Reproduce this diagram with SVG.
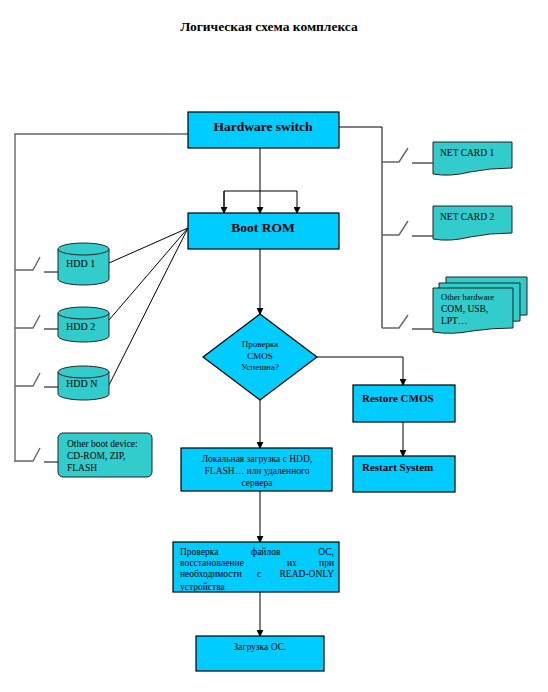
<svg xmlns="http://www.w3.org/2000/svg" width="548" height="692" viewBox="0 0 548 692">
<defs>
<style>
.box{fill:#00CCFF;stroke:#000;stroke-width:1.2}
.hw{fill:#33CCCC;stroke:#222;stroke-width:1}
.ln{fill:none;stroke:#000;stroke-width:1}
.gl{fill:none;stroke:#666;stroke-width:1.4}
.t{font-family:"Liberation Serif","Times New Roman",serif;fill:#000}
.b{font-weight:bold}
</style>
<marker id="ar" viewBox="0 0 8 8" refX="7" refY="4" markerWidth="7" markerHeight="7" markerUnits="userSpaceOnUse" orient="auto">
<path d="M0,0 L8,4 L0,8 Z" fill="#000"/>
</marker>
<clipPath id="cp"><rect x="173" y="542" width="166" height="49"/></clipPath>
</defs>
<rect width="548" height="692" fill="#fff"/>
<text class="t b" x="269" y="31" font-size="13.5" text-anchor="middle">Логическая схема комплекса</text>

<g id="connectors">
<polyline class="gl" points="188,134 15,134 15,462"/>
<path class="gl" d="M15,270 H33 L40,257 M15,328 H33 L40,315 M15,386 H33 L40,373 M15,461 H33 L40,448"/>
<path class="ln" d="M44,272 H58 M44,329 H58 M44,387 H58 M44,462 H58"/>
<polyline class="ln" points="339,127 382,127 382,328"/>
<path class="gl" d="M382,162 H399 L408,148 M382,235 H399 L408,221 M382,328 H399 L408,315"/>
<path class="ln" d="M412,163 H433 M412,236 H433 M412,329 H433"/>
<line class="ln" x1="260" y1="148" x2="260" y2="213" marker-end="url(#ar)"/>
<polyline class="ln" points="224,213 224,191 297,191 297,213" marker-end="url(#ar)"/>
<line class="ln" x1="224" y1="191" x2="224" y2="213" marker-end="url(#ar)"/>
<path class="ln" d="M188,228 L109,263 M188,228 L109,320 M188,228 L109,385" stroke="#333"/>
<line class="ln" x1="260" y1="249" x2="260" y2="314" marker-end="url(#ar)"/>
<polyline class="ln" points="317,357 403,357 403,385" marker-end="url(#ar)"/>
<line class="ln" x1="403" y1="422" x2="403" y2="456" marker-end="url(#ar)"/>
<line class="ln" x1="260" y1="400" x2="260" y2="448" marker-end="url(#ar)"/>
<line class="ln" x1="260" y1="491" x2="260" y2="542" marker-end="url(#ar)"/>
<line class="ln" x1="260" y1="592" x2="260" y2="636" marker-end="url(#ar)"/>
</g>

<g id="hardware-switch">
<rect class="box" x="188" y="112" width="151" height="36"/>
<text class="t b" x="263" y="131" font-size="13.5" text-anchor="middle">Hardware switch</text>
</g>
<g id="boot-rom">
<rect class="box" x="188" y="213" width="151" height="36"/>
<text class="t b" x="263" y="232" font-size="13.5" text-anchor="middle">Boot ROM</text>
</g>

<g id="hdd1">
<path class="hw" d="M58,249 V279 A25.5,6 0 0 0 109,279 V249"/>
<ellipse class="hw" cx="83.5" cy="249" rx="25.5" ry="6"/>
<text class="t" x="66" y="267" font-size="10">HDD 1</text>
</g>
<g id="hdd2">
<path class="hw" d="M58,313 V336 A25.5,6 0 0 0 109,336 V313"/>
<ellipse class="hw" cx="83.5" cy="313" rx="25.5" ry="6"/>
<text class="t" x="66" y="330" font-size="10">HDD 2</text>
</g>
<g id="hddn">
<path class="hw" d="M58,372 V394 A25.5,6 0 0 0 109,394 V372"/>
<ellipse class="hw" cx="83.5" cy="372" rx="25.5" ry="6"/>
<text class="t" x="66" y="387" font-size="10">HDD N</text>
</g>
<g id="other-boot">
<rect class="hw" x="58" y="433" width="94" height="44" rx="5"/>
<text class="t" x="67" y="447" font-size="9.5">Other boot device:</text>
<text class="t" x="67" y="459" font-size="9.5">CD-ROM, ZIP,</text>
<text class="t" x="67" y="471" font-size="9.5">FLASH</text>
</g>

<g id="net-card-1">
<path class="hw" d="M433,142 H512 V168 Q490,168 470,172 Q450,177 433,174 Z"/>
<text class="t" x="440" y="156" font-size="9.5">NET CARD 1</text>
</g>
<g id="net-card-2">
<path class="hw" d="M433,206 H512 V233 Q490,233 470,237 Q450,242 433,239 Z"/>
<text class="t" x="440" y="220" font-size="9.5">NET CARD 2</text>
</g>
<g id="other-hardware">
<path class="hw" d="M446,277 H527 V315 Q510,315 500,317 L446,317 Z"/>
<path class="hw" d="M439,283 H520 V321 Q505,321 495,323 L439,323 Z"/>
<path class="hw" d="M433,288 H513 V328 Q492,328 472,331 Q452,335 433,332 Z"/>
<text class="t" x="441" y="300" font-size="8.5">Other hardware</text>
<text class="t" x="441" y="312" font-size="9.5">COM, USB,</text>
<text class="t" x="441" y="324" font-size="9.5">LPT…</text>
</g>

<g id="cmos-check">
<polygon class="box" points="260,314 317,357 260,400 203,357"/>
<text class="t" x="260" y="347" font-size="9" text-anchor="middle">Проверка</text>
<text class="t" x="260" y="359" font-size="9" text-anchor="middle">CMOS</text>
<text class="t" x="260" y="370" font-size="9" text-anchor="middle">Успешна?</text>
</g>
<g id="restore-cmos">
<rect class="box" x="353" y="385" width="102" height="37"/>
<text class="t b" x="362" y="402" font-size="11">Restore CMOS</text>
</g>
<g id="restart-system">
<rect class="box" x="353" y="456" width="102" height="36"/>
<text class="t b" x="362" y="471" font-size="11">Restart System</text>
</g>
<g id="local-boot">
<rect class="box" x="181" y="448" width="151" height="43"/>
<text class="t" x="257" y="462" font-size="9.5" text-anchor="middle">Локальная загрузка с HDD,</text>
<text class="t" x="257" y="474" font-size="9.5" text-anchor="middle">FLASH… или удаленного</text>
<text class="t" x="257" y="486" font-size="9.5" text-anchor="middle">сервера</text>
</g>
<g id="check-files">
<rect class="box" x="173" y="542" width="166" height="50"/>
<g clip-path="url(#cp)" font-size="9.5">
<text class="t" x="180" y="555">Проверка</text>
<text class="t" x="251" y="555">файлов</text>
<text class="t" x="334" y="555" text-anchor="end">ОС,</text>
<text class="t" x="180" y="566">восстановление</text>
<text class="t" x="287" y="566">их</text>
<text class="t" x="334" y="566" text-anchor="end">при</text>
<text class="t" x="180" y="577">необходимости</text>
<text class="t" x="257" y="577">с</text>
<text class="t" x="334" y="577" text-anchor="end">READ-ONLY</text>
<text class="t" x="180" y="590">устройства</text>
</g>
</g>
<g id="load-os">
<rect class="box" x="196" y="636" width="128" height="35"/>
<text class="t" x="260" y="650" font-size="9.5" text-anchor="middle">Загрузка ОС.</text>
</g>
</svg>
